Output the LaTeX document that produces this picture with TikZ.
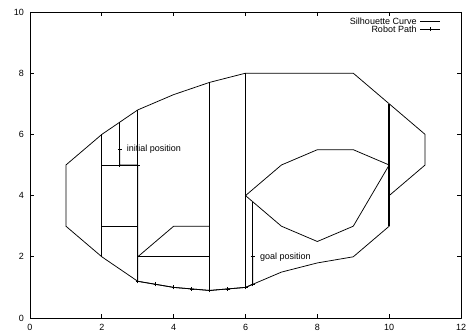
\documentclass[tikz,border=0pt]{standalone}
\usepackage{fontspec}
\setmainfont{Liberation Sans}
\begin{document}
\begin{tikzpicture}[x=35.917pt,y=30.6pt,line join=round,
  curve/.style={line width=0.75pt},
  thickcurve/.style={line width=1.6pt},
  robotpath/.style={line width=0.8pt},
  axisframe/.style={line width=0.75pt},
  lbl/.style={font=\fontsize{9}{10}\selectfont,inner sep=0pt},
  plusmark/.pic={\draw[line width=0.75pt] (-2pt,0)--(2pt,0) (0,-2pt)--(0,2pt);}]
\useasboundingbox (-0.8353,-0.4248) rectangle (12.278,10.392);
% frame and ticks
\draw[axisframe] (0,0) rectangle (12,10);
\foreach \x in {0,2,...,12}{
  \draw[axisframe] (\x,0) -- ++(0,4pt);
  \draw[axisframe] (\x,10) -- ++(0,-4pt);
  \node[lbl] (xl\x) at (\x,-0.294) {\x};
}
\foreach \y in {0,2,...,10}{
  \draw[axisframe] (0,\y) -- ++(4pt,0);
  \draw[axisframe] (12,\y) -- ++(-4pt,0);
  \node[lbl,anchor=east] (yl\y) at (-0.167,\y) {\y};
}
% outer silhouette
\coordinate (o1) at (1,5);   \coordinate (o2) at (2,6);
\coordinate (o3) at (3,6.8); \coordinate (o4) at (4,7.3);
\coordinate (o5) at (5,7.7); \coordinate (o6) at (6,8);
\coordinate (o7) at (9,8);   \coordinate (o8) at (10,7);
\coordinate (o9) at (11,6);  \coordinate (o10) at (11,5);
\coordinate (o11) at (10,4); \coordinate (o12) at (10,3);
\coordinate (o13) at (9,2);  \coordinate (o14) at (8,1.8);
\coordinate (o15) at (7,1.5); \coordinate (o16) at (6.2,1.1);
\coordinate (o17) at (6,1);  \coordinate (o18) at (5.5,0.95);
\coordinate (o19) at (5,0.9); \coordinate (o20) at (4.5,0.95);
\coordinate (o21) at (4,1);  \coordinate (o22) at (3.5,1.1);
\coordinate (o23) at (3,1.2); \coordinate (o24) at (2,2);
\coordinate (o25) at (1,3);
\draw[curve] (o1)--(o2)--(o3)--(o4)--(o5)--(o6)--(o7)--(o8)--(o9)--(o10)--(o11)--(o12)--(o13)--(o14)--(o15)--(o16)--(o17)--(o18)--(o19)--(o20)--(o21)--(o22)--(o23)--(o24)--(o25)--cycle;
% inner obstacle
\coordinate (h1) at (6,4);   \coordinate (h2) at (7,5);
\coordinate (h3) at (8,5.5); \coordinate (h4) at (9,5.5);
\coordinate (h5) at (10,5);  \coordinate (h6) at (9,3);
\coordinate (h7) at (8,2.5); \coordinate (h8) at (7,3);
\draw[curve] (h1)--(h2)--(h3)--(h4)--(h5)--(h6)--(h7)--(h8)--cycle;
% cell boundaries
\coordinate (c1) at (2,5); \coordinate (c2) at (3,5);
\coordinate (c3) at (2,3); \coordinate (c4) at (3,3);
\coordinate (c5) at (3,2); \coordinate (c6) at (4,3);
\coordinate (c7) at (5,3); \coordinate (c8) at (5,2);
\coordinate (c9) at (2.5,5); \coordinate (c10) at (2.5,6.4);
\coordinate (c11) at (6.2,3.8);
\draw[curve] (o24)--(o2);
\draw[curve] (o23)--(o3);
\draw[curve] (c1)--(c2);
\draw[curve] (c3)--(c4);
\draw[curve] (c5)--(c6)--(c7);
\draw[curve] (c5)--(c8);
\draw[curve] (o19)--(o5);
\draw[curve] (o17)--(o6);
\draw[curve] (c9)--(c10);
\draw[curve] (o16)--(c11);
\draw[thickcurve] (o12)--(o8);
% robot path
\coordinate (start) at (2.5,5.5);
\coordinate (goal) at (6.2,2);
\draw[robotpath] (start)--(c9)--(c2)--(o23)--(o22)--(o21)--(o20)--(o19)--(o18)--(o17)--(o16)--(goal);
\foreach \p in {start,c9,c2,o23,o22,o21,o20,o19,o18,o17,o16,goal}
  \pic at (\p) {plusmark};
% labels
\node[lbl,anchor=west] (initlbl) at (2.692,5.52) {initial position};
\node[lbl,anchor=west] (goallbl) at (6.404,2.0) {goal position};
% legend
\node[lbl,anchor=east] (leg1) at (10.767,9.706) {Silhouette Curve};
\node[lbl,anchor=east] (leg2) at (10.767,9.444) {Robot Path};
\coordinate (l1a) at (10.86,9.706); \coordinate (l1b) at (11.415,9.706);
\coordinate (l2a) at (10.86,9.444); \coordinate (l2b) at (11.415,9.444);
\coordinate (l2m) at (11.137,9.444);
\draw[curve] (l1a)--(l1b);
\draw[robotpath] (l2a)--(l2b);
\pic at (l2m) {plusmark};
\end{tikzpicture}
\end{document}
